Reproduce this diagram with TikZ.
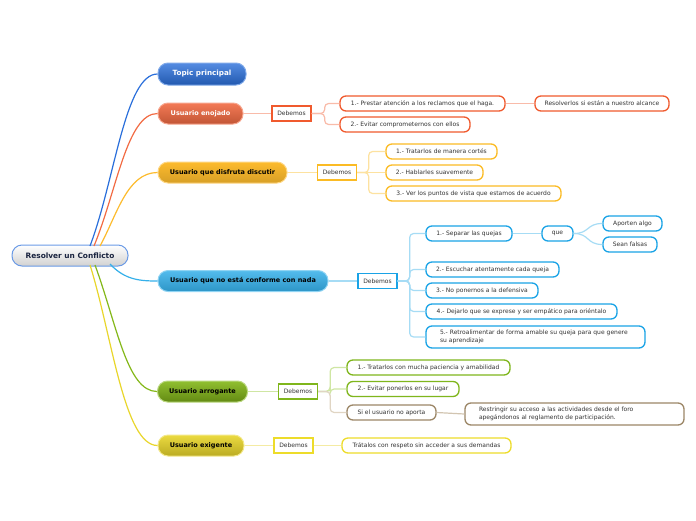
\documentclass[tikz,border=0pt]{standalone}
\usepackage{fontspec}
\setmainfont{DejaVu Sans}
\definecolor{txt}{HTML}{333333}
\definecolor{cblue}{HTML}{2A6FDB}
\definecolor{cred}{HTML}{F26B43}
\definecolor{camber}{HTML}{FDBB2D}
\definecolor{csky}{HTML}{35B0EA}
\definecolor{cgreen}{HTML}{84B819}
\definecolor{cyellow}{HTML}{E9D62B}
\definecolor{lred}{HTML}{F9BBA9}
\definecolor{lamber}{HTML}{FDE2A0}
\definecolor{lsky}{HTML}{A6DCF5}
\definecolor{lgreen}{HTML}{CFE6A3}
\definecolor{ltan}{HTML}{E0D5C3}
\definecolor{lyellow}{HTML}{F4EBA3}
\definecolor{bred}{HTML}{F05A2E}
\definecolor{bamber}{HTML}{FBBB24}
\definecolor{bsky}{HTML}{1AA3E6}
\definecolor{bgreen}{HTML}{7FB61C}
\definecolor{bbrown}{HTML}{9C8767}
\definecolor{byellow}{HTML}{EDDC2A}
\definecolor{rootink}{HTML}{1A2440}
\tikzset{
  mainnode/.style n args={3}{rounded corners=10pt, minimum height=21pt, inner sep=0pt,
     draw=#1, line width=1pt, top color=#2, bottom color=#3,
     font=\fontsize{6.5}{7.5}\selectfont\bfseries},
  deb/.style={draw=#1, line width=1.3pt, fill=white, minimum width=39pt, minimum height=15pt,
     inner sep=0pt, font=\fontsize{6}{7}\selectfont, text=txt},
  leaf/.style={draw=#1, line width=1.3pt, fill=white, rounded corners=6pt, minimum height=15pt,
     inner sep=0pt, font=\fontsize{6}{7}\selectfont, text=txt},
  twoline/.style={leaf=#1, minimum height=22pt, text width=191pt, inner xsep=14pt, align=left,
     font=\fontsize{6}{7.5}\selectfont},
  rootlink/.style={draw=#1, line width=1.2pt},
  sublink/.style={draw=#1, line width=1.2pt, rounded corners=4pt},
}
\begin{document}
\begin{tikzpicture}[x=1pt,y=-1pt]
\useasboundingbox (0,0) rectangle (696,520);
\fill[white] (0,0) rectangle (696,520);

% root
\node[mainnode={cblue!70!white}{white}{black!18}, minimum width=116pt, text=rootink,
  font=\fontsize{7.4}{8}\selectfont\bfseries] (root) at (70,255.5) {Resolver un Conflicto};

% main topics
\node[mainnode={cblue!60!white}{cblue!80!white}{cblue!80!black}, minimum width=88pt, minimum height=22pt,
  text=white, font=\fontsize{7.2}{8}\selectfont\bfseries] (tp) at (202,74) {Topic principal};
\node[mainnode={cred!60!white}{cred!90!white}{cred!80!black}, minimum width=85pt, text=white] (en) at (200.5,113.5) {Usuario enojado};
\node[mainnode={camber!60!white}{camber}{camber!85!black}, minimum width=129pt, text=black] (di) at (222.5,172.5) {Usuario que disfruta discutir};
\node[mainnode={csky!55!white}{csky!85!white}{csky!85!black}, minimum width=170pt, text=black] (nc) at (243,281) {Usuario que no está conforme con nada};
\node[mainnode={cgreen!55!white}{cgreen!90!white}{cgreen!75!black}, minimum width=90pt, text=black] (ar) at (202.5,391.5) {Usuario arrogante};
\node[mainnode={cyellow!55!white}{cyellow!90!white}{cyellow!80!black}, minimum width=86pt, text=black] (ex) at (201,445.5) {Usuario exigente};

% root links
\coordinate (s1) at (90,246);
\coordinate (s2) at (94,246);
\coordinate (s3) at (100,246);
\coordinate (s4) at (110,264);
\coordinate (s5) at (95,265);
\coordinate (s6) at (90,265);
\draw[rootlink=cblue] (s1) .. controls (115,180) and (125,74) .. (tp.west);
\draw[rootlink=cred] (s2) .. controls (117,190) and (127,113.5) .. (en.west);
\draw[rootlink=camber] (s3) .. controls (117,215) and (127,172.5) .. (di.west);
\draw[rootlink=csky] (s4) .. controls (125,280) and (140,281) .. (nc.west);
\draw[rootlink=cgreen] (s5) .. controls (117,325) and (127,391.5) .. (ar.west);
\draw[rootlink=cyellow] (s6) .. controls (112,335) and (124,445.5) .. (ex.west);

% Debemos boxes
\node[deb=bred] (d1) at (291.5,113.5) {Debemos};
\node[deb=bamber] (d2) at (337,172.5) {Debemos};
\node[deb=bsky] (d3) at (377.5,281) {Debemos};
\node[deb=bgreen] (d4) at (298,391.5) {Debemos};
\node[deb=byellow] (d5) at (293.5,445.5) {Debemos};

\draw[sublink=lred] (en.east) -- (d1.west);
\draw[sublink=lamber] (di.east) -- (d2.west);
\draw[sublink=lsky] (nc.east) -- (d3.west);
\draw[sublink=lgreen] (ar.east) -- (d4.west);
\draw[sublink=lyellow] (ex.east) -- (d5.west);

% enojado leaves
\node[leaf=bred, minimum width=165pt] (e1) at (422.5,103.5) {1.- Prestar atención a los reclamos que el haga.};
\node[leaf=bred, minimum width=130pt] (e2) at (405,124.5) {2.- Evitar comprometernos con ellos};
\node[leaf=bred, minimum width=134pt] (e3) at (602,103.5) {Resolverlos si están a nuestro alcance};
\draw[sublink=lred] (d1.east) -- ++(13,0) |- (e1.west);
\draw[sublink=lred] (d1.east) -- ++(13,0) |- (e2.west);
\draw[sublink=lred] (e1.east) -- (e3.west);

% disfruta leaves
\node[leaf=bamber, minimum width=111pt] (f1) at (441.5,151.5) {1.- Tratarlos de manera cortés};
\node[leaf=bamber, minimum width=97pt] (f2) at (434.5,172.5) {2.- Hablarles suavemente};
\node[leaf=bamber, minimum width=175pt] (f3) at (473.5,193.5) {3.- Ver los puntos de vista que estamos de acuerdo};
\draw[sublink=lamber] (d2.east) -- ++(11.5,0) |- (f1.west);
\draw[sublink=lamber] (d2.east) -- (f2.west);
\draw[sublink=lamber] (d2.east) -- ++(11.5,0) |- (f3.west);

% no conforme leaves
\node[leaf=bsky, minimum width=86pt] (n1) at (469,233.5) {1.- Separar las quejas};
\node[leaf=bsky, minimum width=31pt] (nq) at (557.5,233.5) {que};
\node[leaf=bsky, minimum width=59pt] (na) at (632.5,223.5) {Aporten algo};
\node[leaf=bsky, minimum width=54pt] (nb) at (630,244.5) {Sean falsas};
\node[leaf=bsky, minimum width=133pt] (n2) at (492.5,269.5) {2.- Escuchar atentamente cada queja};
\node[leaf=bsky, minimum width=112pt] (n3) at (482,290.5) {3.- No ponernos a la defensiva};
\node[leaf=bsky, minimum width=191pt] (n4) at (521.5,311.5) {4.- Dejarlo que se exprese y ser empático para oriéntalo};
\node[twoline=bsky] (n5) at (535.5,337) {5.- Retroalimentar de forma amable su queja para que genere\\su aprendizaje};
\draw[sublink=lsky] (d3.east) -- ++(12,0) |- (n1.west);
\draw[sublink=lsky] (d3.east) -- ++(12,0) |- (n2.west);
\draw[sublink=lsky] (d3.east) -- ++(12,0) |- (n3.west);
\draw[sublink=lsky] (d3.east) -- ++(12,0) |- (n4.west);
\draw[sublink=lsky] (d3.east) -- ++(12,0) |- (n5.west);
\draw[sublink=lsky] (n1.east) -- (nq.west);
\draw[sublink=lsky] (nq.east) .. controls (590,233.5) and (586,223.5) .. (na.west);
\draw[sublink=lsky] (nq.east) .. controls (590,233.5) and (586,244.5) .. (nb.west);

% arrogante leaves
\node[leaf=bgreen, minimum width=163pt] (a1) at (428.5,367.5) {1.- Tratarlos con mucha paciencia y amabilidad};
\node[leaf=bgreen, minimum width=112pt] (a2) at (403,389) {2.- Evitar ponerlos en su lugar};
\node[leaf=bbrown, minimum width=89pt] (a3) at (391.5,412.5) {Si el usuario no aporta};
\node[twoline=bbrown] (a4) at (574.5,414) {Restringir su acceso a las actividades desde el foro\\apegándonos al reglamento de participación.};
\draw[sublink=lgreen] (d4.east) -- ++(12,0) |- (a1.west);
\draw[sublink=lgreen] (d4.east) -- ++(12,0) |- (a2.west);
\draw[sublink=ltan] (d4.east) -- ++(12,0) |- (a3.west);
\draw[sublink=ltan!80!bbrown] (a3.east) -- (a4.west);

% exigente leaf
\node[leaf=byellow, minimum width=169pt] (x1) at (426.5,445.5) {Trátalos con respeto sin acceder a sus demandas};
\draw[sublink=lyellow] (d5.east) -- (x1.west);
\end{tikzpicture}
\end{document}
